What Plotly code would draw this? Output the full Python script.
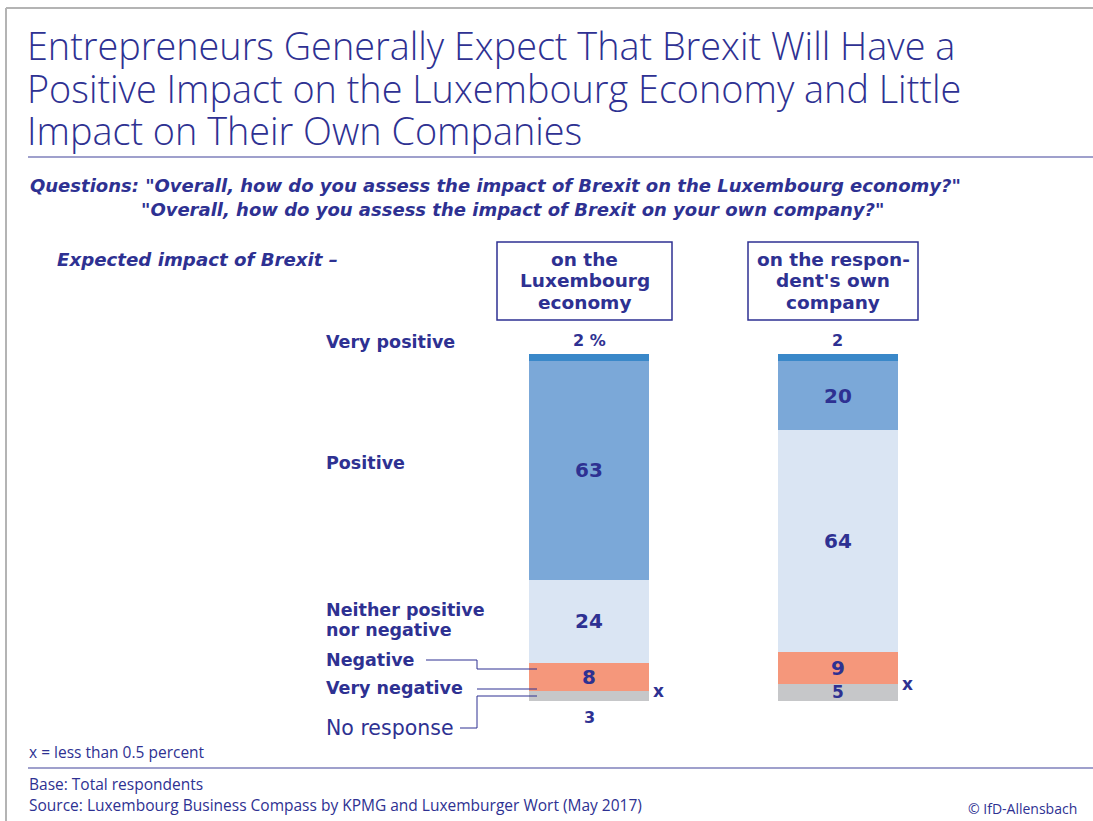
import plotly.graph_objects as go

W, H = 1093, 821
NAVY = "#2e3192"
RULE = "#7f81bb"
LIGHT = "Open Sans"
WIDE = "DejaVu Sans"

# ---- data -------------------------------------------------------------
columns = ["economy", "company"]
column_headers = [
    ["on the", "Luxembourg", "economy"],
    ["on the respon-", "dent's own", "company"],
]
# stacked bottom-up
segments = ["No response", "Very negative", "Negative",
            "Neither positive nor negative", "Positive", "Very positive"]
no_response = [3, 5]
very_negative = [0, 0]          # less than 0.5 percent -> shown as "x"
negative = [8, 9]
neither = [24, 64]
positive = [63, 20]
very_positive = [2, 2]
seg_colors = ["#c6c7c9", "#c6c7c9", "#f5977b", "#dae5f3", "#7ba8d8", "#3a88c9"]

series = [no_response, very_negative, negative, neither, positive, very_positive]


def px(x):
    return x / W


def py(y):
    return 1 - y / H


fig = go.Figure()
for name, vals, col in zip(segments, series, seg_colors):
    fig.add_trace(go.Bar(
        x=columns, y=vals, name=name, marker=dict(color=col, line=dict(width=0)),
        width=0.483, hoverinfo="skip", showlegend=False,
    ))

annotations = []
shapes = []


def txt(x, y, s, size, bold=False, italic=False, xanchor="left", color=NAVY,
        weight=None, family=WIDE, xref="paper", yref="paper", yanchor="middle", **kw):
    annotations.append(dict(
        x=x, y=y, xref=xref, yref=yref, text=s, showarrow=False,
        xanchor=xanchor, yanchor=yanchor,
        font=dict(family=family, size=size, color=color,
                  weight=weight if weight is not None else (700 if bold else 400),
                  style="italic" if italic else "normal"),
        **kw))


# ---- value labels, positioned from the stacked data -------------------
for i, col in enumerate(columns):
    base = 0
    cum = []
    for vals in series:
        cum.append((base, base + vals[i]))
        base += vals[i]
    # inside labels
    for k in (2, 3, 4):
        lo, hi = cum[k]
        txt(col, (lo + hi) / 2, str(series[k][i]), 20, bold=True,
            xanchor="center", xref="x", yref="y")
    # no response
    lo, hi = cum[0]
    if hi - lo >= 4:
        txt(col, (lo + hi) / 2, str(no_response[i]), 17, bold=True,
            xanchor="center", xref="x", yref="y")
    else:
        txt(col, lo, str(no_response[i]), 16, bold=True, xanchor="center",
            xref="x", yref="y", yanchor="top", yshift=-5)
    # very negative below 0.5 percent
    lo, hi = cum[1]
    txt(i + 0.28, lo, "x", 17, bold=True, xanchor="center", xref="x", yref="y")
    # very positive above the bar
    lo, hi = cum[5]
    label = f"{very_positive[i]} %" if i == 0 else str(very_positive[i])
    txt(col, hi, label, 16, bold=True, xanchor="center", xref="x", yref="y",
        yanchor="bottom", yshift=2)

# ---- title block ------------------------------------------------------
title_lines = [
    "Entrepreneurs Generally Expect That Brexit Will Have a",
    "Positive Impact on the Luxembourg Economy and Little",
    "Impact on Their Own Companies",
]
for j, line in enumerate(title_lines):
    txt(px(25), py(46 + 42.5 * j), line, 37.8, weight=300, family=LIGHT)

shapes.append(dict(type="line", xref="paper", yref="paper",
                   x0=px(28), x1=1, y0=py(157), y1=py(157),
                   line=dict(color=RULE, width=1.5)))

txt(px(28), py(186), "Questions: \"Overall, how do you assess the impact of Brexit on the Luxembourg economy?\"",
    18, bold=True, italic=True)
txt(px(139), py(209), "\"Overall, how do you assess the impact of Brexit on your own company?\"",
    18, bold=True, italic=True)
txt(px(55), py(259), "Expected impact of Brexit \u2013", 18.2, bold=True, italic=True)

# ---- column headers ---------------------------------------------------
boxes = [(497, 672), (748, 918)]
for (x0, x1), lines in zip(boxes, column_headers):
    shapes.append(dict(type="rect", xref="paper", yref="paper",
                       x0=px(x0), x1=px(x1), y0=py(242), y1=py(320),
                       line=dict(color=NAVY, width=1.5)))
    for j, line in enumerate(lines):
        txt(px((x0 + x1) / 2), py(259 + 21.5 * j), line, 18.5, bold=True,
            xanchor="center")

# ---- row labels and connectors ---------------------------------------
txt(px(324), py(342), "Very positive", 17.5, bold=True)
txt(px(324), py(463), "Positive", 17.5, bold=True)
txt(px(324), py(610), "Neither positive", 17.5, bold=True)
txt(px(324), py(630), "nor negative", 17.5, bold=True)
txt(px(324), py(660), "Negative", 17.5, bold=True)
txt(px(324), py(688), "Very negative", 17.5, bold=True)
txt(px(324), py(728), "No response", 20.5)

connectors = [
    [(426, 660), (477, 660), (477, 669), (537, 669)],
    [(477, 689), (537, 689)],
    [(460, 728), (477, 728), (477, 696), (537, 696)],
]
for pts in connectors:
    path = "M " + " L ".join(f"{px(x)},{py(y)}" for x, y in pts)
    shapes.append(dict(type="path", xref="paper", yref="paper", path=path,
                       line=dict(color=NAVY, width=1)))

# ---- footer -----------------------------------------------------------
txt(px(27), py(752), "x = less than 0.5 percent", 15.5, family=LIGHT)
shapes.append(dict(type="line", xref="paper", yref="paper",
                   x0=px(28), x1=1, y0=py(768), y1=py(768),
                   line=dict(color=RULE, width=1.5)))
txt(px(27), py(784), "Base: Total respondents", 15.5, family=LIGHT)
txt(px(27), py(805), "Source: Luxembourg Business Compass by KPMG and Luxemburger Wort (May 2017)",
    15.5, family=LIGHT)
txt(px(1079), py(808), "\u00a9 IfD-Allensbach", 14, xanchor="right", family=LIGHT)

# ---- outer frame (top and left edges) ---------------------------------
shapes.append(dict(type="line", xref="paper", yref="paper",
                   x0=px(6), x1=1, y0=py(8), y1=py(8),
                   line=dict(color="#b4b4b4", width=2)))
shapes.append(dict(type="line", xref="paper", yref="paper",
                   x0=px(6), x1=px(6), y0=py(8), y1=0,
                   line=dict(color="#b4b4b4", width=2)))

fig.update_layout(
    width=W, height=H, margin=dict(l=0, r=0, t=0, b=0),
    paper_bgcolor="white", plot_bgcolor="white",
    barmode="stack", bargap=0,
    xaxis=dict(domain=[px(464.75), px(961.75)], range=[-0.5, 1.5],
               visible=False, fixedrange=True),
    yaxis=dict(domain=[py(701), py(354)], range=[0, 100],
               visible=False, fixedrange=True),
    annotations=annotations, shapes=shapes,
    font=dict(family=WIDE, color=NAVY),
)

fig.write_html("out.html")
